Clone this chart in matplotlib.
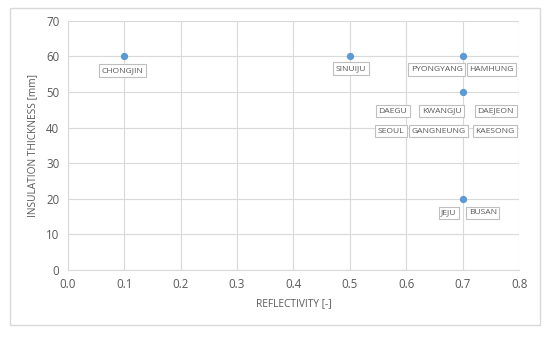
import matplotlib.pyplot as plt
from matplotlib.patches import Rectangle

# Data
reflectivity = [0.1, 0.5, 0.7, 0.7, 0.7]
thickness = [60, 60, 60, 50, 20]

# Labels: (city, point x, point y, offset x px, offset y px)
city_labels = [
    ("CHONGJIN", 0.1, 60, -2, -14),
    ("SINUIJU", 0.5, 60, 1, -12),
    ("PYONGYANG", 0.7, 60, -26, -13),
    ("HAMHUNG", 0.7, 60, 29, -13),
    ("DAEGU", 0.7, 50, -70, -19),
    ("KWANGJU", 0.7, 50, -21, -19),
    ("DAEJEON", 0.7, 50, 33, -19),
    ("SEOUL", 0.7, 50, -72, -39),
    ("GANGNEUNG", 0.7, 50, -24, -39),
    ("KAESONG", 0.7, 50, 32, -39),
    ("JEJU", 0.7, 20, -14, -14),
    ("BUSAN", 0.7, 20, 20, -14),
]

plt.rcParams['font.family'] = ['Open Sans', 'DejaVu Sans']
text_color = '#595959'
grid_color = '#d9d9d9'

fig = plt.figure(figsize=(5.5, 3.37), dpi=100)
ax = fig.add_axes([0.123, 0.199, 0.821, 0.739])

# Outer chart border
fig.patches.append(Rectangle((10 / 550, 1 - 325 / 337), 530 / 550, 317 / 337,
                             transform=fig.transFigure, fill=False,
                             edgecolor=grid_color, linewidth=1))

ax.scatter(reflectivity, thickness, s=18, color='#5B9BD5', zorder=3)

for name, x, y, dx, dy in city_labels:
    ax.annotate(name, (x, y), xytext=(dx, dy), textcoords='offset pixels',
                ha='center', va='center', fontsize=6.1, color=text_color,
                bbox=dict(boxstyle='square,pad=0.3', fc='white', ec='#bfbfbf', lw=0.8),
                zorder=4)

ax.set_xlim(0, 0.8)
ax.set_ylim(0, 70)
ax.set_xticks([i / 10 for i in range(9)])
ax.set_xticklabels([f"{i / 10:.1f}" for i in range(9)])
ax.set_yticks(range(0, 71, 10))

ax.grid(True, color=grid_color, linewidth=0.8)
ax.set_axisbelow(True)
for side in ['top', 'right']:
    ax.spines[side].set_visible(False)
for side in ['left', 'bottom']:
    ax.spines[side].set_color(grid_color)
ax.tick_params(length=0, labelsize=8.3, colors=text_color, pad=6)

ax.set_xlabel("REFLECTIVITY [-]", fontsize=7.3, color=text_color, labelpad=5)
ax.set_ylabel("INSULATION THICKNESS [mm]", fontsize=7.3, color=text_color, labelpad=6)

fig.savefig("out.png", dpi=100)
